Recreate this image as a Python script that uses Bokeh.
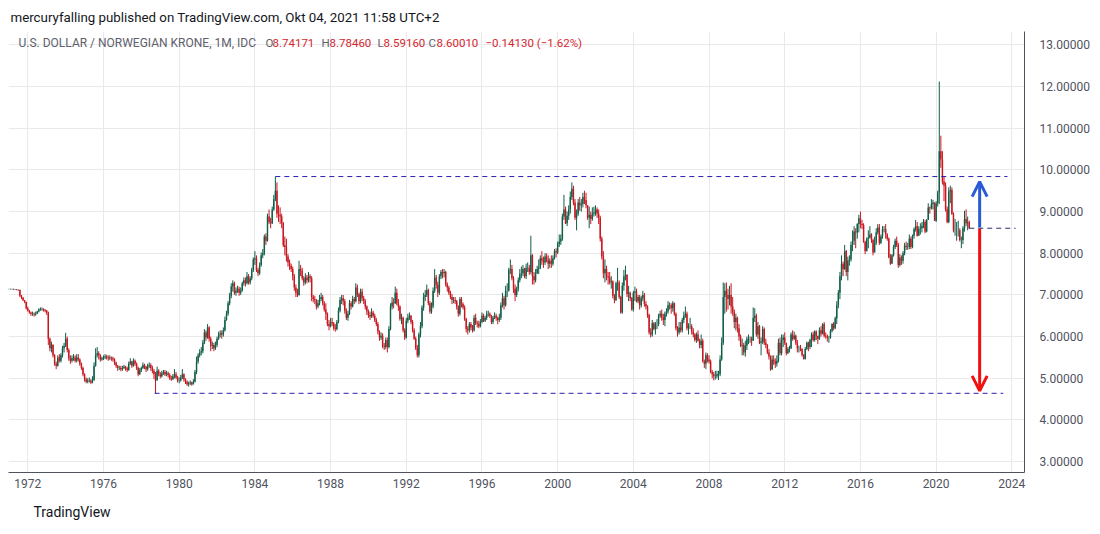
import numpy as np
import pandas as pd
from bokeh.plotting import figure
from bokeh.models import (ColumnDataSource, FixedTicker, PrintfTickFormatter, Label,
                          Arrow, OpenHead, Title)
from bokeh.embed import file_html
from bokeh.resources import INLINE

# ---------------- data: USD/NOK monthly candles, Jan 1971 .. Oct 2021 ----------------
start_month = "1971-01-01"
first_open = 7.14

close = [
    7.14, 7.14, 7.14, 7.13, 7.13, 7.12, 7.12, 6.98, 6.93, 6.87, 6.83, 6.68,   # 1971
    6.62, 6.58, 6.55, 6.55, 6.53, 6.55, 6.60, 6.65, 6.66, 6.66, 6.64, 6.62,   # 1972
    6.58, 5.95, 5.72, 5.80, 5.55, 5.35, 5.30, 5.50, 5.42, 5.55, 5.72, 5.78,   # 1973
    5.95, 5.68, 5.48, 5.42, 5.48, 5.50, 5.42, 5.50, 5.45, 5.35, 5.25, 5.10,   # 1974
    4.98, 4.92, 4.95, 4.95, 4.90, 4.95, 5.30, 5.55, 5.60, 5.55, 5.45, 5.48,   # 1975
    5.50, 5.52, 5.50, 5.48, 5.50, 5.48, 5.45, 5.38, 5.30, 5.25, 5.25, 5.22,   # 1976
    5.25, 5.28, 5.24, 5.20, 5.35, 5.40, 5.30, 5.42, 5.35, 5.25, 5.10, 5.20,   # 1977
    5.25, 5.32, 5.28, 5.22, 5.30, 5.32, 5.25, 5.18, 5.10, 4.95, 5.18, 5.10,   # 1978
    5.05, 5.12, 5.15, 5.10, 5.12, 5.08, 5.00, 4.98, 5.05, 5.10, 5.02, 4.95,   # 1979
    4.95, 5.02, 5.10, 4.98, 4.92, 4.86, 4.88, 4.90, 4.86, 4.92, 5.15, 5.40,   # 1980
    5.55, 5.62, 5.65, 5.85, 6.10, 5.98, 6.22, 5.95, 5.78, 5.80, 5.72, 5.80,   # 1981
    5.95, 6.05, 6.08, 6.05, 6.15, 6.40, 6.55, 6.80, 6.98, 7.20, 7.28, 7.05,   # 1982
    7.10, 7.15, 7.05, 7.10, 7.28, 7.35, 7.28, 7.45, 7.30, 7.40, 7.60, 7.85,   # 1983
    7.88, 7.60, 7.52, 7.72, 7.95, 8.00, 8.40, 8.30, 8.88, 8.75, 8.72, 9.05,   # 1984
    9.30, 9.50, 8.95, 8.92, 8.88, 8.72, 8.20, 8.15, 7.92, 7.78, 7.70, 7.62,   # 1985
    7.45, 7.18, 7.05, 7.00, 7.62, 7.58, 7.40, 7.30, 7.42, 7.35, 7.45, 7.40,   # 1986
    6.95, 6.90, 6.88, 6.72, 6.80, 6.90, 6.95, 6.80, 6.65, 6.55, 6.30, 6.25,   # 1987
    6.35, 6.32, 6.20, 6.18, 6.35, 6.62, 6.88, 6.92, 6.85, 6.62, 6.45, 6.55,   # 1988
    6.80, 6.72, 6.90, 6.85, 7.18, 7.02, 6.85, 7.08, 6.92, 6.85, 6.72, 6.60,   # 1989
    6.52, 6.48, 6.58, 6.50, 6.40, 6.30, 6.12, 5.98, 6.02, 5.78, 5.75, 5.92,   # 1990
    5.75, 6.18, 6.72, 6.82, 6.80, 7.05, 6.80, 6.72, 6.42, 6.45, 6.15, 5.98,   # 1991
    6.38, 6.45, 6.50, 6.35, 6.15, 5.95, 5.72, 5.55, 6.05, 6.25, 6.70, 6.95,   # 1992
    7.00, 7.12, 6.80, 6.60, 6.72, 7.10, 7.42, 7.25, 7.05, 7.45, 7.55, 7.52,   # 1993
    7.55, 7.25, 7.18, 7.05, 6.95, 6.88, 6.88, 6.85, 6.72, 6.55, 6.90, 6.78,   # 1994
    6.70, 6.42, 6.18, 6.15, 6.30, 6.22, 6.15, 6.45, 6.32, 6.30, 6.25, 6.35,   # 1995
    6.50, 6.38, 6.45, 6.55, 6.55, 6.50, 6.35, 6.45, 6.50, 6.45, 6.40, 6.45,   # 1996
    6.75, 6.92, 6.75, 7.10, 7.10, 7.60, 7.62, 7.40, 7.15, 7.00, 7.15, 7.35,   # 1997
    7.50, 7.52, 7.62, 7.45, 7.65, 7.65, 7.55, 7.95, 7.45, 7.35, 7.52, 7.62,   # 1998
    7.65, 7.88, 7.82, 7.78, 7.92, 7.85, 7.75, 7.82, 7.75, 7.88, 8.05, 8.02,   # 1999
    8.22, 8.28, 8.35, 8.88, 9.05, 8.72, 8.90, 9.05, 9.35, 9.55, 9.22, 8.85,   # 2000
    8.95, 9.22, 9.15, 9.18, 9.35, 9.28, 9.15, 8.85, 8.92, 8.82, 8.95, 8.98,   # 2001
    9.05, 8.95, 8.85, 8.35, 7.92, 7.52, 7.62, 7.45, 7.42, 7.30, 7.32, 6.98,   # 2002
    6.88, 7.28, 7.30, 6.95, 6.58, 7.22, 7.45, 7.48, 7.02, 7.05, 6.92, 6.65,   # 2003
    7.05, 7.08, 6.85, 6.95, 6.75, 6.92, 7.00, 6.78, 6.72, 6.52, 6.10, 6.05,   # 2004
    6.32, 6.18, 6.30, 6.30, 6.50, 6.55, 6.45, 6.40, 6.55, 6.60, 6.75, 6.75,   # 2005
    6.68, 6.80, 6.55, 6.20, 6.10, 6.22, 6.15, 6.40, 6.50, 6.55, 6.20, 6.25,   # 2006
    6.25, 6.12, 6.05, 5.92, 6.05, 5.90, 5.80, 5.90, 5.40, 5.35, 5.55, 5.45,   # 2007
    5.40, 5.15, 5.10, 5.05, 5.05, 5.10, 5.10, 5.45, 5.85, 6.95, 7.10, 7.00,   # 2008
    6.90, 7.00, 6.72, 6.60, 6.35, 6.45, 6.20, 6.00, 5.78, 5.80, 5.62, 5.78,   # 2009
    5.95, 5.95, 5.95, 5.90, 6.45, 6.50, 6.05, 6.25, 5.85, 5.88, 6.18, 5.85,   # 2010
    5.80, 5.62, 5.52, 5.22, 5.45, 5.40, 5.35, 5.42, 5.85, 5.60, 5.92, 5.98,   # 2011
    5.85, 5.60, 5.70, 5.72, 6.05, 5.95, 6.02, 5.85, 5.72, 5.72, 5.70, 5.56,   # 2012
    5.46, 5.70, 5.85, 5.75, 5.92, 6.05, 5.92, 6.12, 6.02, 5.95, 6.15, 6.07,   # 2013
    6.30, 6.02, 6.00, 5.97, 5.98, 6.14, 6.30, 6.20, 6.44, 6.75, 7.05, 7.45,   # 2014
    7.75, 7.62, 8.05, 7.55, 7.82, 7.85, 8.20, 8.30, 8.52, 8.50, 8.70, 8.84,   # 2015
    8.70, 8.68, 8.27, 8.05, 8.35, 8.38, 8.45, 8.32, 8.02, 8.25, 8.50, 8.62,   # 2016
    8.25, 8.40, 8.58, 8.58, 8.45, 8.35, 7.90, 7.75, 7.95, 8.15, 8.30, 8.20,   # 2017
    7.72, 7.90, 7.82, 8.00, 8.18, 8.15, 8.15, 8.35, 8.15, 8.42, 8.58, 8.65,   # 2018
    8.42, 8.58, 8.60, 8.66, 8.75, 8.52, 8.80, 9.10, 9.08, 9.18, 9.22, 8.78,   # 2019
    9.20, 9.45, 10.45, 10.25, 9.72, 9.62, 9.05, 8.75, 9.48, 9.52, 8.95, 8.55, # 2020
    8.55, 8.55, 8.55, 8.32, 8.32, 8.60, 8.82, 8.72, 8.7414, 8.6001,          # 2021
]

high = [
    7.15, 7.15, 7.15, 7.15, 7.14, 7.14, 7.13, 7.13, 7.00, 6.95, 6.88, 6.84,
    6.72, 6.64, 6.60, 6.60, 6.58, 6.60, 6.62, 6.68, 6.70, 6.70, 6.68, 6.66,
    6.64, 6.60, 5.98, 5.88, 5.82, 5.58, 5.40, 5.55, 5.58, 5.60, 5.78, 5.85,
    6.09, 6.00, 5.72, 5.55, 5.55, 5.58, 5.55, 5.58, 5.58, 5.48, 5.38, 5.28,
    5.12, 5.02, 5.00, 5.02, 4.98, 5.05, 5.38, 5.72, 5.75, 5.65, 5.58, 5.52,
    5.55, 5.58, 5.56, 5.55, 5.55, 5.52, 5.52, 5.48, 5.40, 5.32, 5.30, 5.30,
    5.30, 5.32, 5.30, 5.28, 5.40, 5.48, 5.42, 5.48, 5.45, 5.38, 5.28, 5.25,
    5.28, 5.38, 5.35, 5.30, 5.35, 5.38, 5.36, 5.30, 5.22, 5.15, 5.28, 5.22,
    5.15, 5.18, 5.20, 5.20, 5.18, 5.16, 5.12, 5.06, 5.10, 5.22, 5.15, 5.06,
    5.02, 5.08, 5.22, 5.12, 5.00, 4.95, 4.92, 4.95, 4.92, 4.98, 5.20, 5.52,
    5.60, 5.70, 5.75, 5.92, 6.18, 6.15, 6.30, 6.25, 6.00, 5.88, 5.85, 5.88,
    6.00, 6.12, 6.15, 6.15, 6.22, 6.48, 6.62, 6.85, 7.05, 7.28, 7.35, 7.32,
    7.18, 7.22, 7.20, 7.18, 7.32, 7.42, 7.42, 7.55, 7.50, 7.45, 7.65, 7.90,
    8.05, 7.95, 7.65, 7.78, 8.02, 8.10, 8.45, 8.48, 8.95, 9.05, 8.85, 9.12,
    9.40, 9.84, 9.70, 9.15, 9.10, 8.95, 8.75, 8.40, 8.35, 7.98, 7.85, 7.75,
    7.68, 7.50, 7.25, 7.15, 7.82, 7.72, 7.65, 7.45, 7.52, 7.48, 7.55, 7.50,
    7.45, 7.00, 6.98, 6.90, 6.88, 7.00, 7.05, 7.00, 6.85, 6.80, 6.58, 6.40,
    6.45, 6.45, 6.35, 6.30, 6.40, 6.70, 6.95, 7.00, 7.00, 6.90, 6.68, 6.62,
    6.88, 6.85, 6.98, 6.95, 7.28, 7.25, 7.05, 7.15, 7.15, 6.98, 6.90, 6.75,
    6.65, 6.60, 6.68, 6.62, 6.55, 6.45, 6.35, 6.15, 6.10, 6.08, 5.85, 5.98,
    5.98, 6.25, 6.80, 6.95, 6.92, 7.20, 7.15, 6.90, 6.75, 6.55, 6.48, 6.20,
    6.45, 6.55, 6.58, 6.52, 6.40, 6.20, 6.00, 5.80, 6.10, 6.35, 6.75, 7.05,
    7.12, 7.25, 7.15, 6.85, 6.82, 7.18, 7.62, 7.48, 7.32, 7.50, 7.60, 7.62,
    7.62, 7.58, 7.30, 7.22, 7.10, 7.02, 6.95, 6.95, 6.88, 6.75, 6.95, 6.95,
    6.82, 6.75, 6.45, 6.25, 6.35, 6.35, 6.28, 6.52, 6.55, 6.38, 6.38, 6.42,
    6.58, 6.55, 6.50, 6.62, 6.62, 6.58, 6.52, 6.50, 6.58, 6.55, 6.48, 6.55,
    6.82, 7.05, 6.98, 7.22, 7.28, 7.65, 7.85, 7.72, 7.45, 7.25, 7.20, 7.42,
    7.62, 7.68, 7.72, 7.65, 7.75, 7.78, 7.72, 8.42, 7.98, 7.55, 7.62, 7.70,
    7.85, 7.95, 8.05, 7.92, 8.00, 8.00, 7.95, 7.88, 7.95, 7.95, 8.10, 8.12,
    8.28, 8.45, 8.45, 8.95, 9.40, 9.12, 9.00, 9.15, 9.48, 9.70, 9.62, 9.30,
    9.05, 9.30, 9.35, 9.30, 9.45, 9.50, 9.45, 9.15, 9.12, 9.00, 9.10, 9.12,
    9.15, 9.10, 9.05, 8.90, 8.40, 8.05, 7.85, 7.70, 7.55, 7.55, 7.45, 7.35,
    7.02, 7.32, 7.65, 7.35, 6.98, 7.30, 7.60, 7.70, 7.50, 7.22, 7.08, 6.95,
    7.10, 7.20, 7.15, 7.00, 7.00, 6.98, 7.10, 7.05, 6.85, 6.75, 6.55, 6.20,
    6.40, 6.35, 6.35, 6.42, 6.55, 6.62, 6.65, 6.55, 6.60, 6.68, 6.85, 6.82,
    6.80, 6.85, 6.82, 6.58, 6.25, 6.35, 6.35, 6.45, 6.60, 6.72, 6.60, 6.32,
    6.45, 6.30, 6.20, 6.08, 6.10, 6.15, 5.95, 6.05, 5.95, 5.45, 5.62, 5.60,
    5.55, 5.45, 5.20, 5.15, 5.18, 5.18, 5.18, 5.55, 5.98, 7.30, 7.28, 7.30,
    7.15, 7.22, 7.28, 6.95, 6.65, 6.55, 6.48, 6.30, 6.05, 5.95, 5.85, 5.90,
    6.00, 6.05, 6.00, 6.00, 6.70, 6.68, 6.55, 6.35, 6.28, 5.98, 6.25, 6.22,
    5.95, 5.82, 5.70, 5.55, 5.55, 5.55, 5.48, 5.55, 5.95, 5.98, 6.05, 6.05,
    6.10, 5.85, 5.75, 5.78, 6.10, 6.15, 6.12, 6.05, 5.92, 5.78, 5.80, 5.72,
    5.58, 5.75, 5.88, 5.88, 5.95, 6.10, 6.12, 6.15, 6.15, 6.02, 6.22, 6.25,
    6.32, 6.35, 6.10, 6.05, 6.02, 6.18, 6.32, 6.35, 6.48, 6.85, 7.12, 7.55,
    7.95, 7.80, 8.20, 8.08, 7.92, 7.95, 8.28, 8.55, 8.65, 8.60, 8.72, 8.92,
    9.00, 8.80, 8.72, 8.30, 8.38, 8.55, 8.65, 8.48, 8.35, 8.40, 8.60, 8.70,
    8.70, 8.45, 8.65, 8.65, 8.70, 8.48, 8.38, 7.98, 7.98, 8.20, 8.35, 8.40,
    8.25, 7.98, 7.95, 8.05, 8.25, 8.28, 8.25, 8.45, 8.40, 8.45, 8.62, 8.80,
    8.75, 8.65, 8.72, 8.75, 8.82, 8.80, 8.82, 9.20, 9.12, 9.30, 9.28, 9.22,
    9.25, 9.50, 12.12, 10.82, 10.45, 9.85, 9.70, 9.12, 9.58, 9.62, 9.58, 8.98,
    8.82, 8.75, 8.78, 8.60, 8.40, 8.65, 9.02, 9.05, 8.88, 8.7846,
]

low = [
    7.13, 7.13, 7.13, 7.12, 7.12, 7.11, 7.10, 6.95, 6.90, 6.85, 6.80, 6.65,
    6.60, 6.55, 6.50, 6.50, 6.48, 6.50, 6.54, 6.58, 6.62, 6.62, 6.60, 6.58,
    6.52, 5.80, 5.65, 5.62, 5.50, 5.30, 5.22, 5.28, 5.38, 5.38, 5.50, 5.62,
    5.75, 5.62, 5.42, 5.35, 5.38, 5.42, 5.38, 5.38, 5.40, 5.30, 5.20, 5.05,
    4.92, 4.88, 4.88, 4.90, 4.86, 4.88, 4.95, 5.28, 5.50, 5.45, 5.40, 5.42,
    5.44, 5.46, 5.45, 5.42, 5.44, 5.42, 5.40, 5.32, 5.25, 5.18, 5.20, 5.17,
    5.18, 5.22, 5.18, 5.15, 5.18, 5.32, 5.25, 5.28, 5.30, 5.20, 5.05, 5.08,
    5.15, 5.22, 5.22, 5.15, 5.18, 5.25, 5.18, 5.12, 4.98, 4.64, 4.95, 5.05,
    5.00, 5.02, 5.08, 5.05, 5.05, 5.02, 4.96, 4.94, 4.96, 5.00, 4.98, 4.90,
    4.88, 4.92, 4.98, 4.92, 4.86, 4.82, 4.80, 4.84, 4.82, 4.85, 4.90, 5.10,
    5.35, 5.50, 5.55, 5.60, 5.82, 5.90, 5.95, 5.88, 5.65, 5.70, 5.65, 5.68,
    5.75, 5.92, 5.98, 5.95, 6.00, 6.12, 6.38, 6.50, 6.75, 6.92, 7.08, 7.00,
    6.98, 7.05, 6.98, 7.00, 7.08, 7.22, 7.20, 7.25, 7.25, 7.25, 7.35, 7.55,
    7.72, 7.55, 7.45, 7.48, 7.68, 7.88, 7.95, 8.20, 8.28, 8.70, 8.60, 8.70,
    9.02, 9.25, 8.85, 8.75, 8.70, 8.60, 8.15, 7.95, 7.80, 7.68, 7.60, 7.55,
    7.35, 7.10, 6.95, 6.95, 6.98, 7.45, 7.35, 7.22, 7.25, 7.28, 7.30, 7.30,
    6.85, 6.82, 6.78, 6.65, 6.68, 6.75, 6.85, 6.75, 6.60, 6.40, 6.25, 6.15,
    6.22, 6.25, 6.15, 6.12, 6.15, 6.32, 6.58, 6.78, 6.75, 6.55, 6.40, 6.38,
    6.52, 6.65, 6.70, 6.78, 6.82, 6.95, 6.78, 6.80, 6.85, 6.78, 6.65, 6.52,
    6.45, 6.40, 6.45, 6.45, 6.35, 6.25, 6.05, 5.90, 5.92, 5.72, 5.68, 5.70,
    5.62, 5.72, 6.15, 6.65, 6.68, 6.78, 6.75, 6.62, 6.38, 6.30, 6.10, 5.92,
    5.95, 6.32, 6.40, 6.30, 6.10, 5.92, 5.68, 5.50, 5.50, 5.98, 6.20, 6.62,
    6.85, 6.95, 6.75, 6.55, 6.55, 6.68, 7.05, 7.15, 6.95, 7.00, 7.38, 7.40,
    7.42, 7.20, 7.08, 7.00, 6.90, 6.78, 6.80, 6.78, 6.65, 6.48, 6.50, 6.70,
    6.65, 6.38, 6.10, 6.05, 6.10, 6.15, 6.10, 6.12, 6.28, 6.22, 6.20, 6.22,
    6.32, 6.35, 6.35, 6.40, 6.48, 6.45, 6.30, 6.30, 6.42, 6.38, 6.30, 6.35,
    6.40, 6.70, 6.65, 6.72, 6.95, 7.08, 7.50, 7.35, 7.05, 6.85, 6.95, 7.08,
    7.30, 7.40, 7.45, 7.40, 7.38, 7.55, 7.48, 7.50, 7.25, 7.25, 7.30, 7.50,
    7.50, 7.62, 7.72, 7.65, 7.72, 7.78, 7.62, 7.65, 7.65, 7.70, 7.85, 7.90,
    7.98, 8.15, 8.20, 8.30, 8.80, 8.70, 8.65, 8.80, 8.95, 9.28, 9.15, 8.80,
    8.55, 8.90, 9.02, 9.00, 9.10, 9.18, 9.08, 8.80, 8.60, 8.70, 8.78, 8.88,
    8.90, 8.85, 8.70, 8.28, 7.85, 7.40, 7.30, 7.35, 7.25, 7.25, 7.15, 6.92,
    6.80, 6.85, 7.10, 6.90, 6.55, 6.55, 7.10, 7.35, 6.95, 6.85, 6.85, 6.62,
    6.60, 6.85, 6.82, 6.80, 6.65, 6.70, 6.85, 6.72, 6.65, 6.45, 6.05, 5.98,
    6.00, 6.15, 6.05, 6.18, 6.25, 6.45, 6.38, 6.28, 6.25, 6.48, 6.55, 6.65,
    6.55, 6.60, 6.50, 6.15, 6.00, 6.05, 6.10, 6.10, 6.32, 6.45, 6.15, 6.05,
    6.18, 6.05, 5.98, 5.88, 5.85, 5.88, 5.72, 5.72, 5.38, 5.25, 5.22, 5.38,
    5.35, 5.12, 5.00, 4.95, 4.97, 5.00, 4.96, 5.05, 5.42, 5.80, 6.55, 6.60,
    6.65, 6.75, 6.55, 6.50, 6.20, 6.15, 6.10, 5.90, 5.75, 5.55, 5.55, 5.52,
    5.68, 5.82, 5.85, 5.78, 5.90, 6.35, 6.00, 5.95, 5.82, 5.55, 5.82, 5.80,
    5.72, 5.58, 5.45, 5.18, 5.20, 5.32, 5.25, 5.28, 5.38, 5.55, 5.55, 5.75,
    5.80, 5.55, 5.58, 5.62, 5.70, 5.90, 5.92, 5.80, 5.62, 5.62, 5.65, 5.52,
    5.45, 5.45, 5.68, 5.65, 5.70, 5.75, 5.88, 5.88, 5.92, 5.82, 5.92, 6.00,
    6.05, 5.98, 5.95, 5.88, 5.85, 5.95, 6.10, 6.15, 6.18, 6.30, 6.68, 6.90,
    7.35, 7.45, 7.60, 7.45, 7.35, 7.70, 7.80, 8.05, 8.20, 8.12, 8.35, 8.50,
    8.60, 8.58, 8.25, 7.98, 8.05, 8.12, 8.35, 8.25, 7.95, 8.02, 8.20, 8.45,
    8.20, 8.22, 8.35, 8.50, 8.35, 8.30, 7.88, 7.72, 7.75, 7.92, 8.10, 8.15,
    7.65, 7.68, 7.72, 7.75, 7.95, 8.08, 8.08, 8.10, 8.10, 8.12, 8.35, 8.52,
    8.40, 8.42, 8.45, 8.50, 8.60, 8.48, 8.50, 8.82, 8.95, 9.05, 9.05, 8.78,
    8.75, 9.12, 9.18, 10.05, 9.65, 9.25, 9.00, 8.72, 8.72, 9.20, 8.92, 8.50,
    8.42, 8.30, 8.40, 8.28, 8.12, 8.22, 8.52, 8.65, 8.55, 8.5916,
]

# header values of the last bar
last_open, last_high, last_low, last_close = 8.74171, 8.78460, 8.59160, 8.60010
last_change, last_change_pct = -0.14130, -1.62

# drawings
resistance_level = 9.84
resistance_from, resistance_to = 1985.08, 2023.77
support_level = 4.64
support_from, support_to = 1978.70, 2023.55
price_line_to = 2024.2
arrow_x = 2022.3
arrow_up = (8.62, 9.72)
arrow_down = (8.59, 4.70)

year_ticks = list(range(1972, 2025, 4))
price_ticks = list(range(3, 14))

# ---------------- derived ----------------
dates = pd.date_range(start_month, periods=len(close), freq="MS")
xpos = np.asarray(dates.year + (dates.month - 1) / 12.0, dtype=float)
c = np.array(close)
o = np.concatenate([[first_open], c[:-1]])
o[-1] = last_open
up = c >= o
UP, DOWN = "#0f5e48", "#c8161f"
src = ColumnDataSource(dict(
    x=xpos, high=high, low=low,
    top=np.maximum(o, c), bottom=np.minimum(o, c),
    color=np.where(up, UP, DOWN),
))

FONT = "Roboto"
p = figure(width=1100, height=534, output_backend="svg", toolbar_location=None,
           x_range=(1970.98, 2024.67), y_range=(2.74, 13.32),
           y_axis_location="right",
           min_border_left=8, min_border_right=76, min_border_top=31, min_border_bottom=62)
p.outline_line_color = None
p.background_fill_color = "white"

# header (title above) and footer (title below)
p.title.text = "mercuryfalling published on TradingView.com, Okt 04, 2021 11:58 UTC+2"
p.title.align = "left"
p.title.offset = 2
p.title.standoff = 14
p.title.text_font = FONT
p.title.text_font_size = "13.3px"
p.title.text_font_style = "normal"
p.title.text_color = "#131722"
p.add_layout(Title(text="TradingView", align="left", offset=25, standoff=23,
                   text_font=FONT, text_font_size="14px", text_font_style="normal",
                   text_color="#131722"), "below")

# grid
p.xgrid.ticker = FixedTicker(ticks=year_ticks)
p.ygrid.ticker = FixedTicker(ticks=price_ticks)
p.grid.grid_line_color = "#e9e9eb"
p.grid.grid_line_width = 1

# axes
p.xaxis.ticker = FixedTicker(ticks=year_ticks)
p.yaxis.ticker = FixedTicker(ticks=price_ticks)
p.yaxis.formatter = PrintfTickFormatter(format="%.5f")
for ax in (p.xaxis[0], p.yaxis[0]):
    ax.axis_line_color = "#50535e"
    ax.axis_line_width = 1
    ax.major_tick_line_color = None
    ax.minor_tick_line_color = None
    ax.major_label_text_font = FONT
    ax.major_label_text_font_size = "12px"
    ax.major_label_text_color = "#50535e"
p.xaxis.major_label_standoff = 0
p.yaxis.major_label_standoff = 9

# candles
p.segment(x0="x", y0="low", x1="x", y1="high", color="color", line_width=1, source=src)
p.vbar(x="x", width=0.075, top="top", bottom="bottom", fill_color="color",
       line_color=None, source=src)

# horizontal dashed drawings
LINE = "#2b1fae"
p.segment(x0=[resistance_from, support_from], y0=[resistance_level, support_level],
          x1=[resistance_to, support_to], y1=[resistance_level, support_level],
          line_color=LINE, line_width=1, line_dash="5 4")
p.segment(x0=[xpos[-1]], y0=[last_close], x1=[price_line_to], y1=[last_close],
          line_color="#2a2a6a", line_width=1, line_dash="5 4")

# arrows
p.add_layout(Arrow(x_start=arrow_x, y_start=arrow_up[0], x_end=arrow_x, y_end=arrow_up[1],
                   line_color="#2a5ad6", line_width=3,
                   end=OpenHead(size=15, line_color="#2a5ad6", line_width=3)))
p.add_layout(Arrow(x_start=arrow_x, y_start=arrow_down[0], x_end=arrow_x, y_end=arrow_down[1],
                   line_color="#f01010", line_width=3,
                   end=OpenHead(size=15, line_color="#f01010", line_width=3)))

# symbol / OHLC row inside the chart (screen units: from frame left / frame bottom)
def lab(text, x, y, color, size="11.5px"):
    p.add_layout(Label(x=x, y=y, x_units="screen", y_units="screen", text=text,
                       text_font=FONT, text_font_size=size, text_color=color,
                       text_baseline="middle"))

GREY, RED = "#5d606b", "#d5262e"
ROW = 430
lab("U.S. DOLLAR / NORWEGIAN KRONE, 1M, IDC", 10, ROW, GREY, "12px")
lab("O", 257, ROW, GREY); lab(f"{last_open:.5f}", 264, ROW, RED)
lab("H", 313, ROW, GREY); lab(f"{last_high:.5f}", 321, ROW, RED)
lab("L", 369, ROW, GREY); lab(f"{last_low:.5f}", 375, ROW, RED)
lab("C", 420, ROW, GREY); lab(f"{last_close:.5f}", 428, ROW, RED)
lab(f"\u2212{abs(last_change):.5f} (\u2212{abs(last_change_pct):.2f}%)", 477, ROW, RED)

html = file_html(p, INLINE, "USD/NOK")
open("out.html", "w").write(html)
